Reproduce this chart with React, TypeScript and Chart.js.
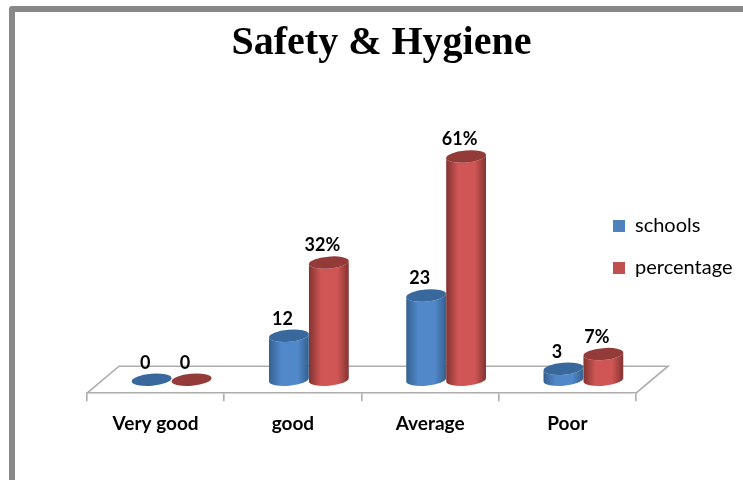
import React, { useEffect, useRef } from "react";
import { Chart, registerables } from "chart.js";

Chart.register(...registerables);

const categories = ["Very good", "good", "Average", "Poor"];
const schools = [0, 12, 23, 3];
const percentage = [0, 32, 61, 7];
const percentSuffix = ["", "%"];
const zeroSuffixHidden = true;

const LABEL_FONT = "Lato";
const FLOOR_DX = 32;
const FLOOR_DY = 27;
const RX_TILT = (-5 * Math.PI) / 180;
const RY = 6;

const palette = [
  { legend: "#4f81bd", edge: "#35608f", mid: "#5088c9", top: "#38689c" },
  { legend: "#c0504d", edge: "#823330", mid: "#cf5654", top: "#933b38" },
];

const framePlugin = {
  id: "frame",
  beforeDraw(chart: any) {
    const { ctx, width, height } = chart;
    ctx.save();
    ctx.fillStyle = "#ffffff";
    ctx.fillRect(0, 0, width, height);
    ctx.strokeStyle = "#888888";
    ctx.lineWidth = 6;
    ctx.lineJoin = "round";
    ctx.beginPath();
    ctx.moveTo(12, height + 5);
    ctx.lineTo(12, 9);
    ctx.lineTo(width + 5, 9);
    ctx.stroke();
    ctx.restore();
  },
};

const legendMovePlugin = {
  id: "legendMove",
  afterLayout(chart: any) {
    const l = chart.legend;
    if (!l) return;
    const h = l.bottom - l.top;
    l.left = 591;
    l.right = chart.width;
    l.top = 247 - h / 2;
    l.bottom = l.top + h;
  },
};

const floorPlugin = {
  id: "floor",
  beforeDatasetsDraw(chart: any) {
    const { ctx, chartArea: a } = chart;
    ctx.save();
    ctx.strokeStyle = "#adadad";
    ctx.lineWidth = 1.6;
    ctx.beginPath();
    ctx.moveTo(a.left, a.bottom);
    ctx.lineTo(a.left + FLOOR_DX, a.bottom - FLOOR_DY);
    ctx.lineTo(a.right + FLOOR_DX, a.bottom - FLOOR_DY);
    ctx.lineTo(a.right, a.bottom);
    ctx.stroke();
    ctx.restore();
  },
};

function drawCylinder(ctx: any, x: number, top: number, base: number, r: number, c: any) {
  const ellipse = (cy: number, s: number, e: number, ccw = false) =>
    ctx.ellipse(x, cy, r, RY, RX_TILT, s, e, ccw);
  if (base - top > 0.5) {
    const g = ctx.createLinearGradient(x - r, 0, x + r, 0);
    g.addColorStop(0, c.edge);
    g.addColorStop(0.3, c.mid);
    g.addColorStop(0.72, c.mid);
    g.addColorStop(1, c.edge);
    ctx.fillStyle = g;
    ctx.beginPath();
    ellipse(top, Math.PI, 0, true);
    ellipse(base, 0, Math.PI);
    ctx.closePath();
    ctx.fill();
  }
  ctx.fillStyle = c.top;
  ctx.beginPath();
  ellipse(top, 0, Math.PI * 2);
  ctx.fill();
}

const cylinderPlugin = {
  id: "cylinders",
  beforeDatasetDraw(chart: any, args: any) {
    const { ctx } = chart;
    const c = palette[args.index];
    const meta = chart.getDatasetMeta(args.index);
    ctx.save();
    meta.data.forEach((el: any) => {
      const r = el.width / 2;
      drawCylinder(ctx, el.x + FLOOR_DX / 2, el.y, el.base, r, c);
    });
    ctx.restore();
    return false;
  },
  afterDatasetsDraw(chart: any) {
    const { ctx } = chart;
    ctx.save();
    ctx.font = `bold 18px ${LABEL_FONT}`;
    ctx.fillStyle = "#000000";
    ctx.textAlign = "center";
    ctx.textBaseline = "middle";
    chart.data.datasets.forEach((ds: any, i: number) => {
      chart.getDatasetMeta(i).data.forEach((el: any, j: number) => {
        const v = ds.data[j];
        const text = v === 0 && zeroSuffixHidden ? "0" : `${v}${percentSuffix[i]}`;
        ctx.fillText(text, el.x + FLOOR_DX / 2 - 6.5, el.y - 17);
      });
    });
    ctx.restore();
  },
};

export default function App() {
  const ref = useRef<HTMLCanvasElement>(null);
  useEffect(() => {
    const chart = new Chart(ref.current as HTMLCanvasElement, {
      type: "bar",
      data: {
        labels: categories,
        datasets: [
          { label: "schools", data: schools, backgroundColor: palette[0].legend },
          { label: "percentage", data: percentage, backgroundColor: palette[1].legend },
        ],
      },
      plugins: [framePlugin, legendMovePlugin, floorPlugin, cylinderPlugin],
      options: {
        animation: false,
        responsive: false,
        layout: { padding: { left: 20, right: 0, top: 0, bottom: 34 } },
        datasets: { bar: { categoryPercentage: 0.582, barPercentage: 1 } },
        plugins: {
          tooltip: { enabled: false },
          title: {
            display: true,
            text: "Safety & Hygiene",
            color: "#000000",
            font: { family: "Liberation Serif", weight: "bold", size: 40 },
            padding: { top: 20, bottom: 57 },
          },
          legend: {
            position: "right",
            maxWidth: 107,
            labels: {
              boxWidth: 12,
              boxHeight: 12,
              padding: 22,
              color: "#000000",
              font: { family: LABEL_FONT, size: 20 },
            },
          },
        },
        scales: {
          x: {
            grid: {
              drawOnChartArea: false,
              drawTicks: true,
              tickLength: 8,
              color: "#adadad",
              lineWidth: 1.6,
            },
            border: { color: "#adadad", width: 1.6 },
            ticks: {
              color: "#000000",
              padding: 11,
              maxRotation: 0,
              font: { family: LABEL_FONT, weight: "bold", size: 19 },
            },
          },
          y: {
            min: -3.68,
            max: 69.6,
            afterFit(scale: any) {
              scale.width = 67;
            },
            grid: { display: false },
            border: { display: false },
            ticks: { display: false },
          },
        },
      },
    } as any);
    return () => chart.destroy();
  }, []);
  return (
    <canvas
      ref={ref}
      width={743}
      height={480}
      style={{ position: "absolute", left: 0, top: 0, display: "block" }}
    />
  );
}
